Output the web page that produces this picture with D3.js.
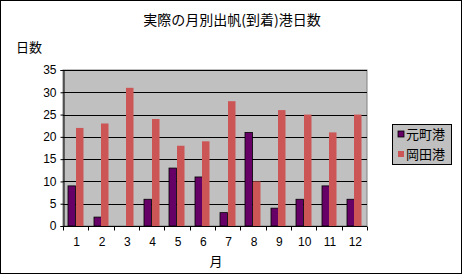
<!DOCTYPE html>
<html><head><meta charset="utf-8">
<script src="https://cdn.jsdelivr.net/npm/d3@7"></script>
<style>body{margin:0;background:#fff}svg{display:block;font-family:"Noto Sans CJK JP",sans-serif}</style>
</head><body>
<svg id="c" width="463" height="275"></svg>
<script>
const months = ["1","2","3","4","5","6","7","8","9","10","11","12"];
const seriesNames = ["元町港","岡田港"];
const motomachi = [9,2,0,6,13,11,3,21,4,6,9,6];
const okada = [22,23,31,24,18,19,28,10,26,25,21,25];
const yTicks = [0,5,10,15,20,25,30,35];
const colors = ["#660066","#cc5555"];
const title = "実際の月別出帆(到着)港日数";
const yTitle = "日数";
const xTitle = "月";

const svg = d3.select("#c");
svg.append("rect").attr("x",0.5).attr("y",0.5).attr("width",461).attr("height",273)
  .attr("fill","#fff").attr("stroke","#000");

const L=63,R=367,T=70,B=226;
const xb = d3.scaleBand().domain(months).range([L,R]);
const y = d3.scaleLinear().domain([0,35]).range([B,T]);

svg.append("rect").attr("x",L).attr("y",T).attr("width",R-L).attr("height",B-T)
  .attr("fill","#c0c0c0").attr("stroke","#808080");

// gridlines
svg.append("g").selectAll("line").data(yTicks.filter(d=>d>0)).join("line")
  .attr("x1",L).attr("x2",R).attr("y1",d=>Math.round(y(d))+0.5).attr("y2",d=>Math.round(y(d))+0.5)
  .attr("stroke","#000");

const data = [motomachi, okada];
data.forEach((vals,si)=>{
  const g = svg.append("g");
  g.selectAll("rect").data(vals.map((v,i)=>({m:months[i],v}))).join("rect")
    .attr("x",d=>Math.round(xb(d.m)+ (xb.bandwidth()-15)/2 + si*7.5))
    .attr("width",7.5)
    .attr("y",d=>y(d.v))
    .attr("height",d=>B-y(d.v))
    .attr("fill",colors[si])
    .attr("stroke",si===0?"#000":"none").attr("stroke-width",0.8);
});

// y axis
const ya = d3.axisLeft(y).tickValues(yTicks).tickSize(3).tickPadding(4);
const yg = svg.append("g").attr("transform",`translate(${L+0.5},0)`).call(ya);
yg.select(".domain").attr("stroke","#000");
yg.selectAll("text").attr("font-size",12).attr("fill","#000").attr("font-family","Liberation Sans, sans-serif");

// x axis
const xg = svg.append("g").attr("transform",`translate(0,${B+0.5})`);
xg.append("line").attr("x1",L).attr("x2",R).attr("stroke","#000");
xg.selectAll("line.t").data(d3.range(13)).join("line").attr("class","t")
  .attr("x1",i=>Math.round(L+i*xb.bandwidth())+0.5).attr("x2",i=>Math.round(L+i*xb.bandwidth())+0.5)
  .attr("y1",0).attr("y2",4).attr("stroke","#000");
xg.selectAll("text").data(months).join("text")
  .attr("x",d=>xb(d)+xb.bandwidth()/2+1).attr("y",19).attr("text-anchor","middle")
  .attr("font-size",12).attr("font-family","Liberation Sans, sans-serif").text(d=>d);

svg.append("text").attr("x",232).attr("y",25).attr("text-anchor","middle").attr("font-size",14).text(title);
svg.append("text").attr("x",16).attr("y",52).attr("font-size",13).text(yTitle);
svg.append("text").attr("x",216).attr("y",266).attr("text-anchor","middle").attr("font-size",13).text(xTitle);

// legend
const lg = svg.append("g");
lg.append("rect").attr("x",392.5).attr("y",124.5).attr("width",59).attr("height",40)
  .attr("fill","#c0c0c0").attr("stroke","#000");
seriesNames.forEach((n,i)=>{
  lg.append("rect").attr("x",398).attr("y",131+i*20).attr("width",6).attr("height",6)
    .attr("fill",colors[i]).attr("stroke",i===0?"#000":"none").attr("stroke-width",0.8);
  lg.append("text").attr("x",406).attr("y",139+i*20).attr("font-size",13).text(n);
});
</script>
</body></html>
